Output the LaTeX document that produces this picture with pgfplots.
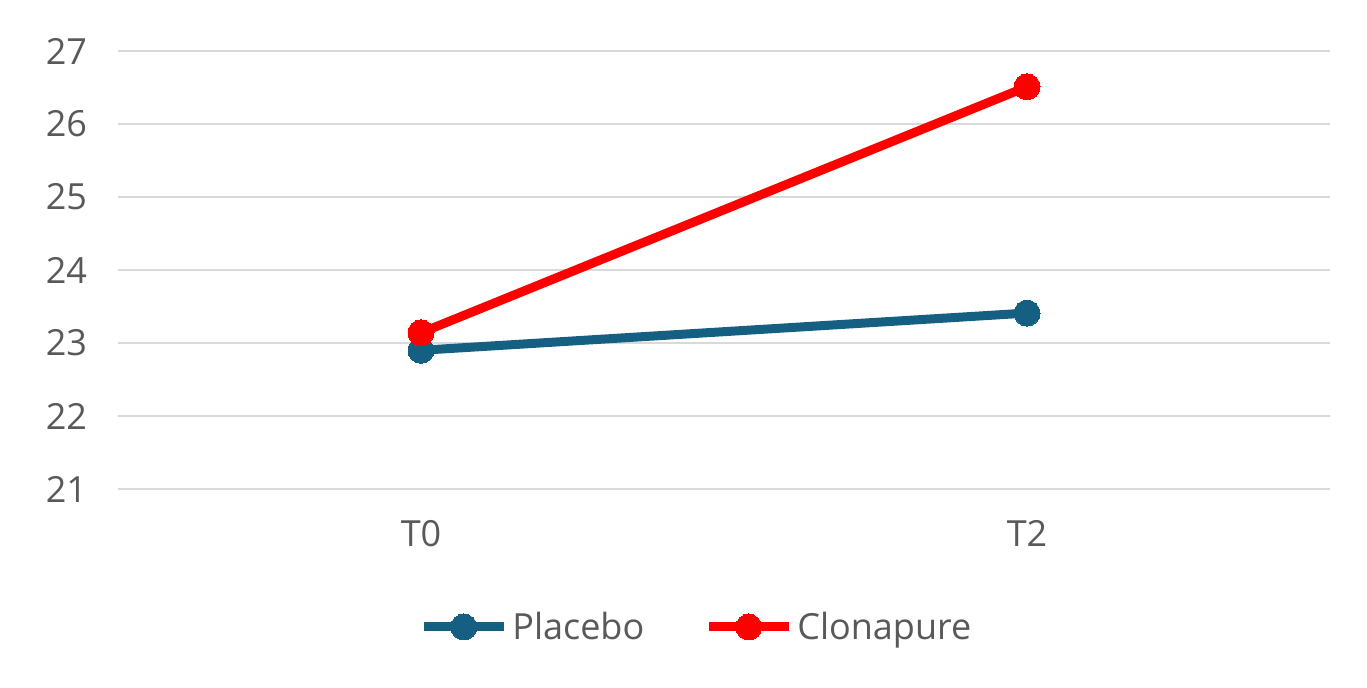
\documentclass[border=0pt]{standalone}
\usepackage{pgfplots}
\pgfplotsset{compat=1.18}
\usepackage{fontspec}
\setmainfont{Open Sans}
\usetikzlibrary{calc}
\definecolor{txt}{HTML}{595959}
\definecolor{gridc}{HTML}{D9D9D9}
\definecolor{placebo}{HTML}{156082}
\definecolor{clona}{HTML}{FF0000}
\begin{document}
\begin{tikzpicture}
\begin{axis}[name=ax,
scale only axis,width=606pt,height=219pt,
xmin=-0.5,xmax=1.5,ymin=21,ymax=27,
xtick={0,1},xticklabels={T0,T2},ytick={21,22,...,27},
axis line style={draw=none},tick style={draw=none},
ymajorgrids,grid style={gridc,line width=1pt},
every tick label/.append style={font=\fontsize{18}{22}\selectfont,text=txt},
/pgf/number format/assume math mode=true,
yticklabel style={xshift=-12pt},
xticklabel style={yshift=-12pt},
legend columns=2,
legend style={draw=none,font=\fontsize{18}{22}\selectfont,text=txt,
  at={(0.478,-0.315)},anchor=center,
  /tikz/every even column/.append style={column sep=28pt}},
legend image code/.code={\draw[mark repeat=2,mark phase=2] plot coordinates {(0pt,0pt)(20pt,0pt)(40pt,0pt)};},
]
\addplot[placebo,line width=4.5pt,mark=*,mark size=6.5pt,mark options={line width=0pt}] coordinates {(0,22.90) (1,23.41)};
\addlegendentry{Placebo}
\addplot[clona,line width=4.5pt,mark=*,mark size=6.5pt,mark options={line width=0pt}] coordinates {(0,23.14) (1,26.51)};
\addlegendentry{Clonapure}
\end{axis}
\path ($(ax.south west)+(-59pt,-99.5pt)$) rectangle ($(ax.north east)+(18.5pt,25.5pt)$);
\end{tikzpicture}
\end{document}
